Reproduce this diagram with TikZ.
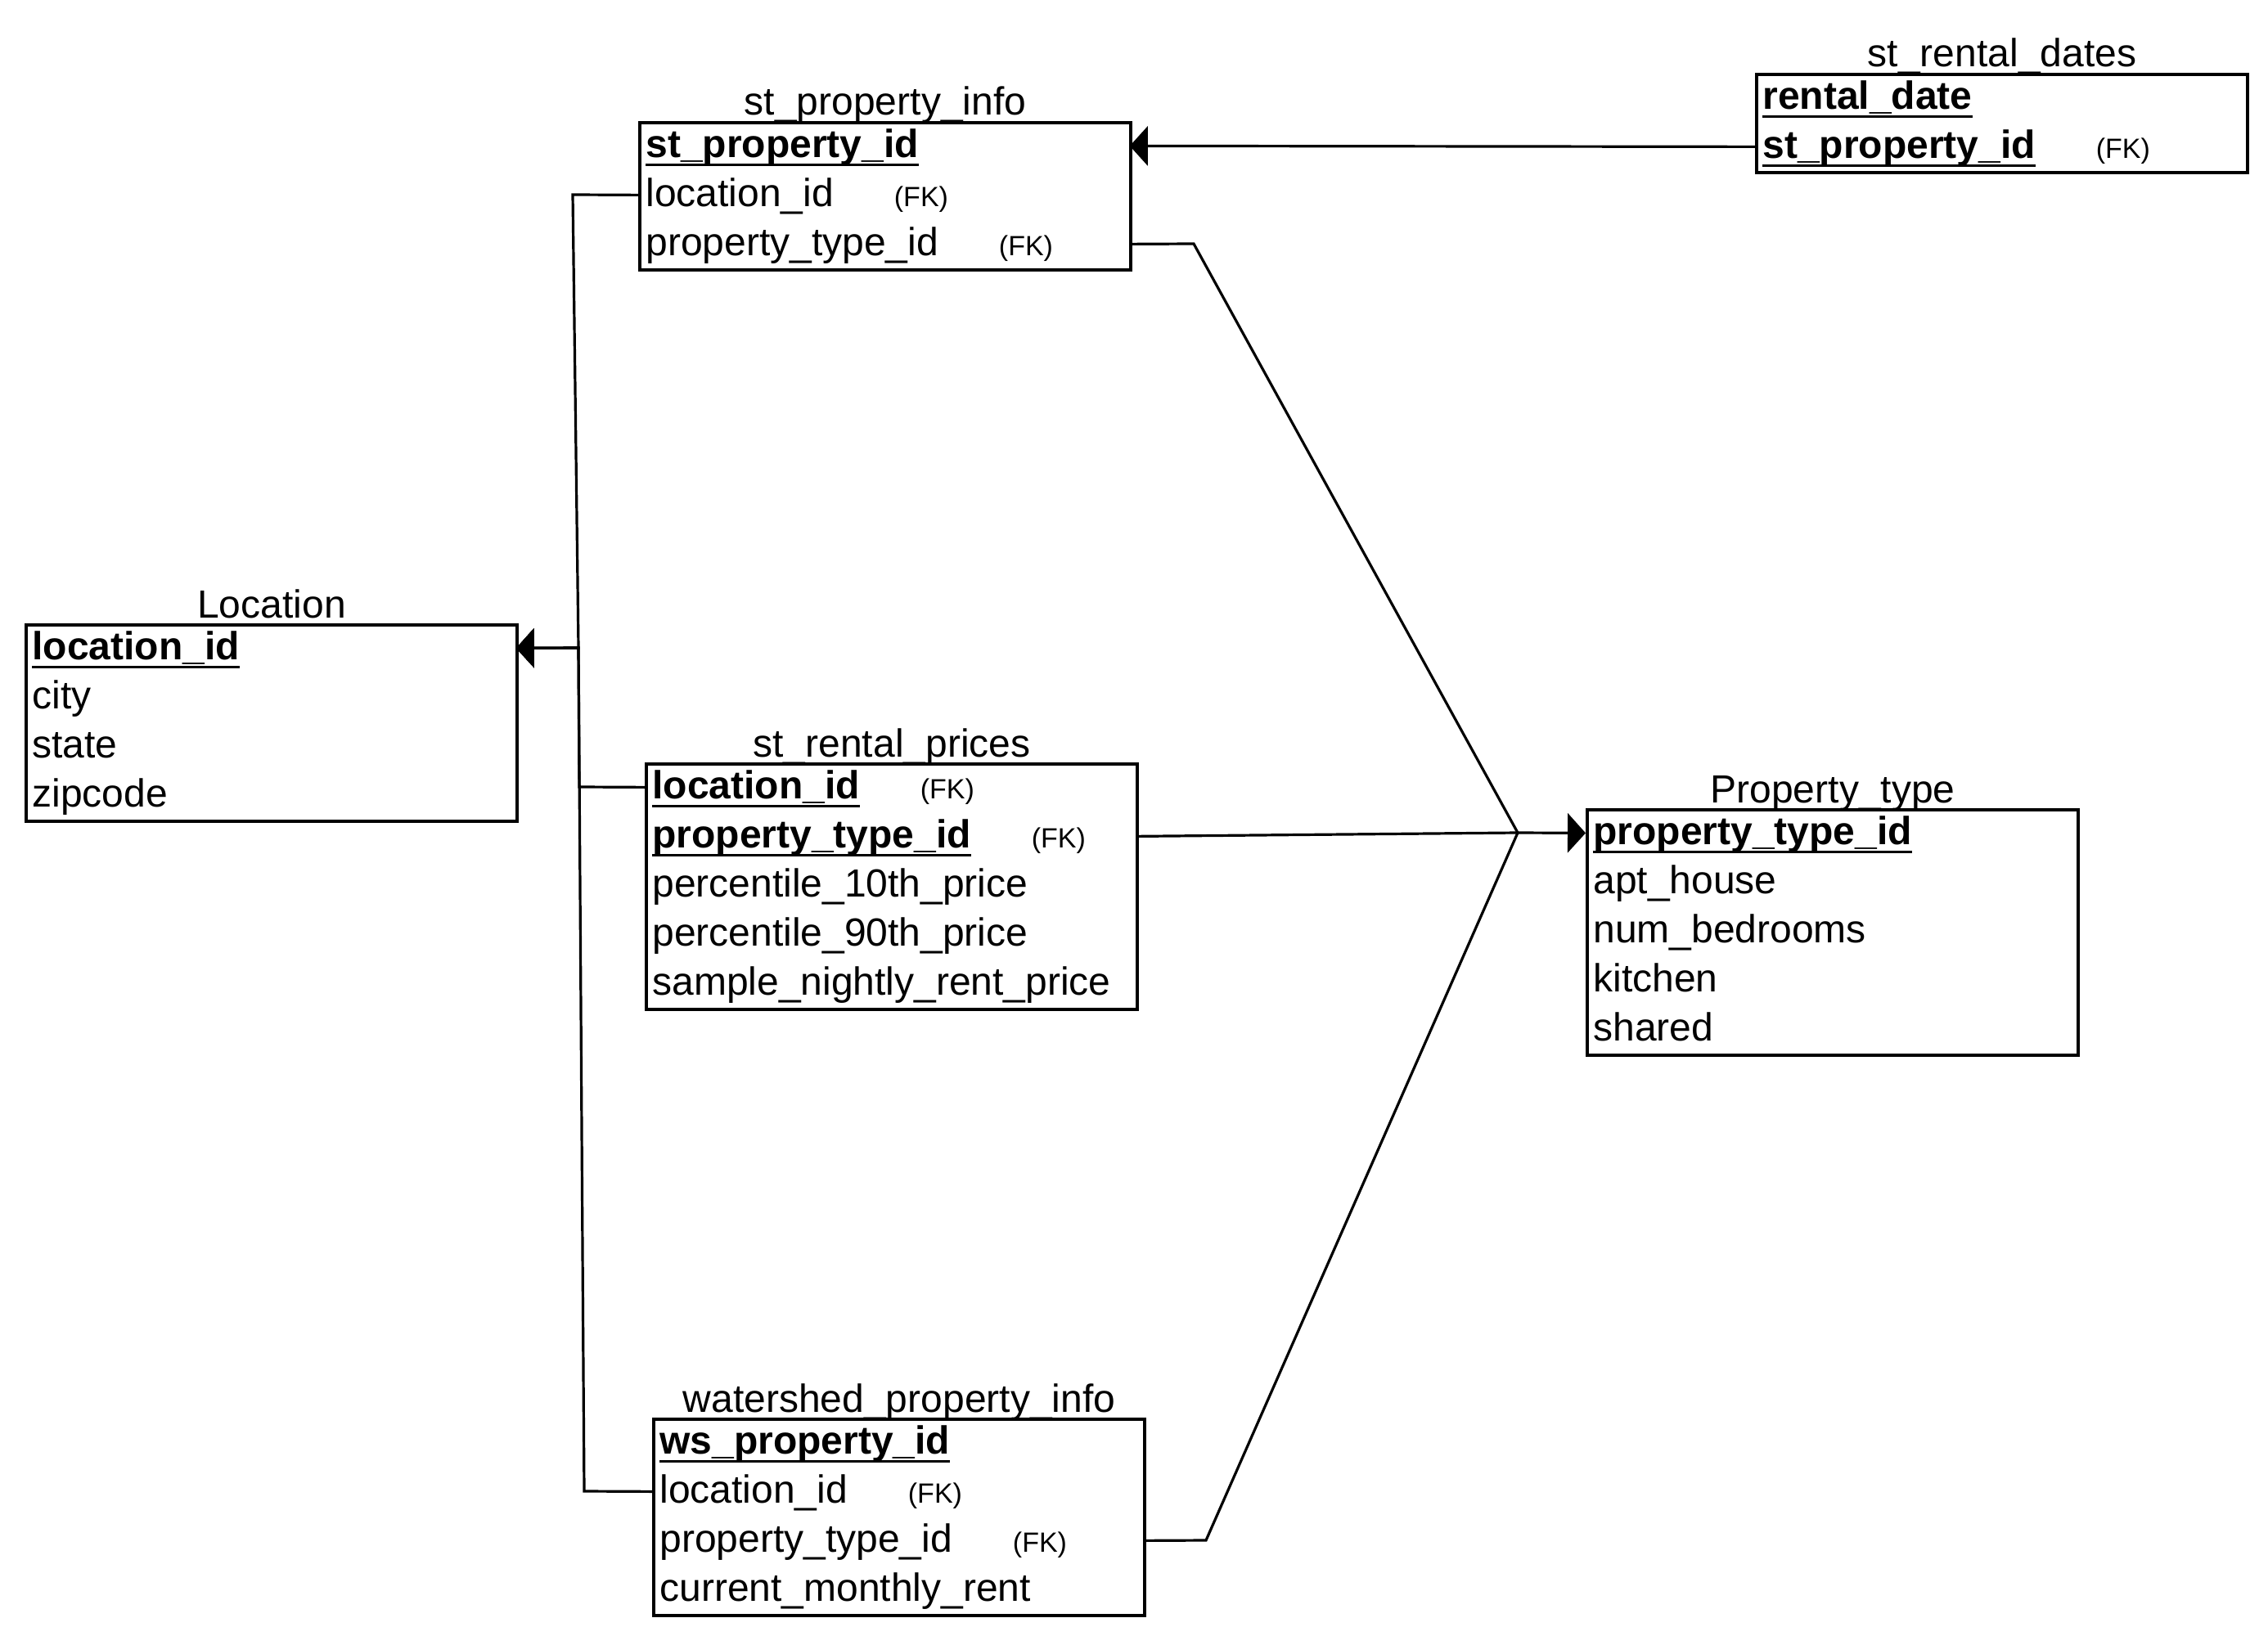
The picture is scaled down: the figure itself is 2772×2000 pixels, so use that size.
\documentclass[tikz,border=0pt]{standalone}
\usepackage{fontspec}
\setmainfont{Liberation Sans}
\usetikzlibrary{arrows.meta}
\newsavebox\pkbox
\newcommand\pkey[1]{\sbox\pkbox{\bfseries #1}\rlap{\rule[-0.23em]{\wd\pkbox}{0.075em}}\usebox\pkbox}
\newcommand\fk{\hspace{37pt}{\fontsize{17pt}{20pt}\selectfont (FK)}}
\tikzset{
  tbl/.style={draw, line width=2pt, minimum width=300pt, inner sep=0pt, anchor=north west},
  row/.style={anchor=north west, inner xsep=4.5pt, inner ysep=0pt, text width=291pt, align=left,
    minimum height=30pt, text height=19pt, text depth=5pt, font=\fontsize{24pt}{29pt}\selectfont},
  ttl/.style={anchor=base, inner sep=0pt, font=\fontsize{24pt}{29pt}\selectfont},
  conn/.style={line width=1.6pt, line join=miter},
  tip/.style={-{Triangle[length=11pt,width=24pt]}}
}
\begin{document}
\begin{tikzpicture}[x=0.5pt,y=-0.5pt]
\useasboundingbox (0,0) rectangle (2772,2000);

% st_property_info
\node[tbl, minimum height=90pt] (spi) at (780,148) {};
\node[ttl] (spi-t) at ([yshift=3.5pt]spi.north) {st\_property\_info};
\node[row] (spi-1) at (780,148) {\pkey{st\_property\_id}};
\node[row] (spi-2) at (780,208) {location\_id\fk};
\node[row] (spi-3) at (780,268) {property\_type\_id\fk};

% st_rental_dates
\node[tbl, minimum height=60pt] (srd) at (2145,89) {};
\node[ttl] (srd-t) at ([yshift=3.5pt]srd.north) {st\_rental\_dates};
\node[row] (srd-1) at (2145,89) {\pkey{rental\_date}};
\node[row] (srd-2) at (2145,149) {\pkey{st\_property\_id}\fk};

% Location
\node[tbl, minimum height=120pt] (loc) at (30,762) {};
\node[ttl] (loc-t) at ([yshift=3.5pt]loc.north) {Location};
\node[row] (loc-1) at (30,762) {\pkey{location\_id}};
\node[row] (loc-2) at (30,822) {city};
\node[row] (loc-3) at (30,882) {state};
\node[row] (loc-4) at (30,942) {zipcode};

% st_rental_prices
\node[tbl, minimum height=150pt] (srp) at (788,932) {};
\node[ttl] (srp-t) at ([yshift=3.5pt]srp.north) {st\_rental\_prices};
\node[row] (srp-1) at (788,932) {\pkey{location\_id}\fk};
\node[row] (srp-2) at (788,992) {\pkey{property\_type\_id}\fk};
\node[row] (srp-3) at (788,1052) {percentile\_10th\_price};
\node[row] (srp-4) at (788,1112) {percentile\_90th\_price};
\node[row] (srp-5) at (788,1172) {sample\_nightly\_rent\_price};

% Property_type
\node[tbl, minimum height=150pt] (pt) at (1938,988) {};
\node[ttl] (pt-t) at ([yshift=3.5pt]pt.north) {Property\_type};
\node[row] (pt-1) at (1938,988) {\pkey{property\_type\_id}};
\node[row] (pt-2) at (1938,1048) {apt\_house};
\node[row] (pt-3) at (1938,1108) {num\_bedrooms};
\node[row] (pt-4) at (1938,1168) {kitchen};
\node[row] (pt-5) at (1938,1228) {shared};

% watershed_property_info
\node[tbl, minimum height=120pt] (wpi) at (797,1733) {};
\node[ttl] (wpi-t) at ([yshift=3.5pt]wpi.north) {watershed\_property\_info};
\node[row] (wpi-1) at (797,1733) {\pkey{ws\_property\_id}};
\node[row] (wpi-2) at (797,1793) {location\_id\fk};
\node[row] (wpi-3) at (797,1853) {property\_type\_id\fk};
\node[row] (wpi-4) at (797,1913) {current\_monthly\_rent};

% junction points
\coordinate (jA) at (700,238);
\coordinate (jB) at (708,962);
\coordinate (jC) at (714,1823);
\coordinate (jL) at (707,792);
\coordinate (jS) at (1459,298);
\coordinate (jW) at (1474,1883);
\coordinate (jP) at (1855,1018);

% connectors
\draw[conn, tip] (srd-2.west) -- (spi-1.east);
\draw[conn, tip] (spi-2.west) -- (jA) -- (jL) -- (loc-1.east);
\draw[conn, tip] (srp-1.west) -- (jB) -- (jL) -- (loc-1.east);
\draw[conn, tip] (wpi-2.west) -- (jC) -- (jL) -- (loc-1.east);
\draw[conn] (spi-3.east) -- (jS) -- (jP);
\draw[conn] (srp-2.east) -- (jP);
\draw[conn] (wpi-3.east) -- (jW) -- (jP);
\draw[conn, tip] (jP) -- (pt-1.west);
\end{tikzpicture}
\end{document}
